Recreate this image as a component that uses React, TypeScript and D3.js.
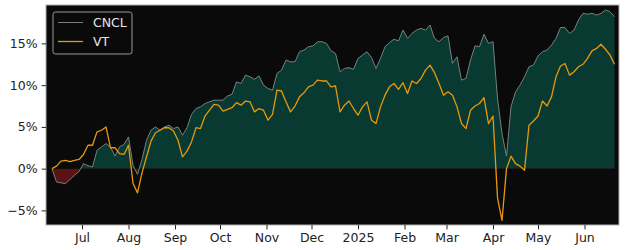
import React, { useRef, useEffect } from 'react';
import * as d3 from 'd3';

// cumulative return in %, one reading every 3 calendar days from 2024-06-11
const cnclValues = [
  0, -1.6, -1.7, -1.8, -1.3, -0.8, -0.35, 0.6, 0.35, 0.2,
  2.2, 2.6, 3.0, 2.6, 1.5, 2.6, 2.9, 3.8, 0.4, -0.7,
  1.1, 3.4, 4.6, 5.0, 4.6, 5.0, 5.2, 4.8, 5.0, 4.0,
  4.9, 6.5, 7.2, 7.4, 7.8, 8.0, 8.2, 8.2, 8.2, 8.7,
  8.9, 10.4, 10.2, 11.2, 11.0, 10.7, 11.1, 10.0, 9.6, 9.4,
  11.4, 11.8, 13.0, 12.8, 12.8, 14.0, 14.2, 14.6, 14.7, 15.2,
  15.2, 15.0, 14.1, 13.8, 11.6, 12.0, 12.1, 11.9, 13.2, 13.6,
  14.0, 13.3, 12.0, 13.2, 14.6, 15.1, 15.5, 15.3, 16.6, 15.6,
  16.2, 16.6, 16.8, 16.6, 17.2, 15.6, 15.2, 15.7, 15.9, 12.6,
  13.4, 10.6, 10.8, 13.0, 14.7, 14.6, 16.1, 15.0, 15.2, 8.4,
  4.2, 1.5, 7.4, 9.2, 10.0, 11.0, 12.2, 12.4, 13.5, 14.0,
  14.2, 14.8, 15.6, 16.9, 16.9, 16.2, 16.6, 17.8, 18.6, 18.5,
  18.6, 18.4, 18.6, 19.0, 18.8, 18.2,
];

const vtValues = [
  0, 0.3, 0.9, 1.0, 0.85, 1.0, 1.1, 1.7, 2.8, 2.8,
  4.4, 4.6, 5.0, 2.5, 2.5, 1.8, 1.7, 2.8, -1.75, -2.9,
  -0.5, 1.4, 3.3, 4.3, 4.6, 4.9, 4.9, 4.5, 3.4, 1.4,
  2.1, 3.2, 4.9, 4.8, 6.3, 7.0, 7.7, 7.6, 6.9, 7.1,
  7.3, 7.9, 7.6, 8.1, 8.0, 6.8, 7.2, 7.0, 5.8, 6.5,
  9.4, 9.3, 8.0, 6.8, 7.5, 8.6, 9.1, 9.8, 10.0, 10.6,
  10.5, 10.5, 9.8, 9.9, 6.8, 7.6, 8.1, 7.2, 6.4, 7.4,
  8.0, 5.8, 5.4, 7.4, 8.8, 9.8, 10.2, 9.5, 10.3, 9.0,
  10.5, 10.2, 10.8, 11.8, 12.4, 11.5, 10.2, 8.8, 9.2, 8.8,
  7.4, 5.4, 4.8, 7.0, 7.5, 7.8, 8.5, 5.4, 6.3, -3.5,
  -6.2, 0.0, 1.5, 0.6, 0.3, -0.2, 5.2, 5.7, 6.3, 8.1,
  7.5, 8.6, 11.0, 12.3, 12.6, 11.2, 11.6, 12.2, 12.5, 13.2,
  14.1, 14.4, 14.9, 14.3, 13.6, 12.5,
];

const seriesNames = ['CNCL', 'VT'];
const yTicks = [-5, 0, 5, 10, 15];
const monthTicks = [
  '2024-07-01', '2024-08-01', '2024-09-01', '2024-10-01', '2024-11-01', '2024-12-01',
  '2025-01-01', '2025-02-01', '2025-03-01', '2025-04-01', '2025-05-01', '2025-06-01',
];
const monthLabels = ['Jul', 'Aug', 'Sep', 'Oct', 'Nov', 'Dec', '2025', 'Feb', 'Mar', 'Apr', 'May', 'Jun'];

const startDate = new Date(2024, 5, 11);
const dates = cnclValues.map((_, i) => d3.timeDay.offset(startDate, 3 * i));

const width = 625;
const height = 250;
const margin = { top: 5, right: 6, bottom: 25, left: 46 };

const FONT = '"DejaVu Sans", sans-serif';

const Chart: React.FC = () => {
  const svgRef = useRef<SVGSVGElement | null>(null);

  useEffect(() => {
    if (!svgRef.current) return;
    const svg = d3.select(svgRef.current);
    svg.selectAll('*').remove();

    const x0 = margin.left;
    const x1 = width - margin.right;
    const y0 = margin.top;
    const y1 = height - margin.bottom;

    const x = d3.scaleTime()
      .domain([new Date(2024, 5, 7), new Date(2025, 5, 24)])
      .range([x0, x1]);
    const y = d3.scaleLinear().domain([-6.75, 19.6]).range([y1, y0]);

    const parse = d3.timeParse('%Y-%m-%d');
    const tickDates = monthTicks.map(s => parse(s)!);

    // plot background
    svg.append('rect')
      .attr('x', x0).attr('y', y0)
      .attr('width', x1 - x0).attr('height', y1 - y0)
      .attr('fill', '#0a0a0a');

    const defs = svg.append('defs');
    defs.append('clipPath').attr('id', 'clip-pos')
      .append('rect')
      .attr('x', x0).attr('y', y0)
      .attr('width', x1 - x0).attr('height', y(0) - y0);
    defs.append('clipPath').attr('id', 'clip-neg')
      .append('rect')
      .attr('x', x0).attr('y', y(0))
      .attr('width', x1 - x0).attr('height', y1 - y(0));

    const area = d3.area<number>()
      .x((_, i) => x(dates[i]))
      .y0(y(0))
      .y1(d => y(d));

    svg.append('path')
      .datum(cnclValues)
      .attr('d', area)
      .attr('fill', '#083a31')
      .attr('clip-path', 'url(#clip-pos)');
    svg.append('path')
      .datum(cnclValues)
      .attr('d', area)
      .attr('fill', '#5a1212')
      .attr('clip-path', 'url(#clip-neg)');

    const line = d3.line<number>()
      .x((_, i) => x(dates[i]))
      .y(d => y(d));

    svg.append('path')
      .datum(cnclValues)
      .attr('d', line)
      .attr('fill', 'none')
      .attr('stroke', '#75817f')
      .attr('stroke-width', 1);

    svg.append('path')
      .datum(vtValues)
      .attr('d', line)
      .attr('fill', 'none')
      .attr('stroke', '#e8980e')
      .attr('stroke-width', 1.3)
      .attr('stroke-linejoin', 'round');

    // frame
    svg.append('rect')
      .attr('x', x0).attr('y', y0)
      .attr('width', x1 - x0).attr('height', y1 - y0)
      .attr('fill', 'none')
      .attr('stroke', '#b0b0b0')
      .attr('stroke-width', 1);

    // axes
    const xAxis = svg.append('g')
      .attr('transform', `translate(0,${y1})`)
      .call(d3.axisBottom(x)
        .tickValues(tickDates)
        .tickFormat((_, i) => monthLabels[i])
        .tickSize(4.4)
        .tickPadding(4));
    xAxis.select('.domain').remove();

    const yAxis = svg.append('g')
      .attr('transform', `translate(${x0},0)`)
      .call(d3.axisLeft(y)
        .tickValues(yTicks)
        .tickFormat(d => `${(d as number) < 0 ? '\u2212' : ''}${Math.abs(d as number)}%`)
        .tickSize(4.4)
        .tickPadding(4));
    yAxis.select('.domain').remove();

    svg.selectAll('.tick text')
      .attr('font-family', FONT)
      .attr('font-size', 12.5)
      .attr('fill', '#222');
    svg.selectAll('.tick line').attr('stroke', '#222');

    // legend
    const lg = svg.append('g').attr('transform', 'translate(53,12)');
    lg.append('rect')
      .attr('width', 79).attr('height', 42)
      .attr('rx', 2.5)
      .attr('fill', '#0a0a0a')
      .attr('stroke', '#9a9a9a')
      .attr('stroke-width', 1);
    const colors = ['#75817f', '#e8980e'];
    seriesNames.forEach((name, i) => {
      const ly = 10.5 + i * 19;
      lg.append('line')
        .attr('x1', 5).attr('x2', 30)
        .attr('y1', ly).attr('y2', ly)
        .attr('stroke', colors[i])
        .attr('stroke-width', i === 0 ? 1 : 1.3);
      lg.append('text')
        .attr('x', 40).attr('y', ly + 4.5)
        .attr('font-family', FONT)
        .attr('font-size', 12.5)
        .attr('fill', '#e6e6e6')
        .text(name);
    });

    return () => {
      d3.select(svgRef.current).selectAll('*').remove();
    };
  }, []);

  return <svg ref={svgRef} width={width} height={height} style={{ display: 'block' }}></svg>;
};

export default function App() {
  return (
    <div style={{ position: 'absolute', left: 0, top: 0, background: '#ffffff' }}>
      <Chart />
    </div>
  );
}
